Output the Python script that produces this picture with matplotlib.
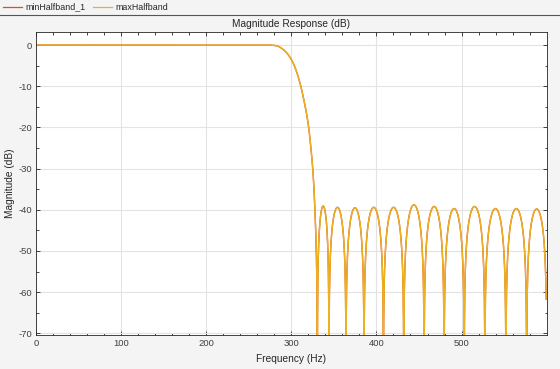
import numpy as np
import matplotlib
matplotlib.use("Agg")
import matplotlib.pyplot as plt
from matplotlib.ticker import MultipleLocator
from matplotlib.lines import Line2D

plt.rcParams['font.family'] = ['Liberation Sans', 'DejaVu Sans']
plt.rcParams['axes.unicode_minus'] = False

# ---- data ----
series_names = ["minHalfband_1", "maxHalfband"]
series_colors = ["#D95319", "#EDB120"]
# passband / transition band samples (Hz, dB)
trans_freq = [0, 270, 280, 285, 290, 295, 300, 305, 310, 315, 320, 323, 325.5, 327.7, 329.3, 330.1, 330.6]
trans_db = [0, 0, -0.08, -0.35, -1.0, -2.0, -3.5, -5.8, -9.1, -13.6, -19.4, -25.0, -31.0, -40.0, -50.0, -60.0, -90.0]
# stopband null frequencies (Hz) and the peak level (dB) of each lobe between them
stop_nulls = [330.6, 344.2, 364.2, 385.4, 408.2, 432.1, 456.0, 479.5, 503.1, 527.4, 552.1, 576.5, 600.0]
lobe_peaks = [-39.1, -39.4, -39.5, -39.4, -39.4, -38.8, -39.2, -39.7, -39.2, -39.7, -39.7, -39.8]
freq_end = 599.4
xticks = [0, 100, 200, 300, 400, 500]
yticks = [0, -10, -20, -30, -40, -50, -60, -70]


def pchip(xp, yp, xq):
    xp = np.asarray(xp, float); yp = np.asarray(yp, float)
    h = np.diff(xp); d = np.diff(yp) / h
    m = np.zeros_like(yp)
    m[0], m[-1] = d[0], d[-1]
    for k in range(1, len(xp) - 1):
        if d[k - 1] * d[k] > 0:
            w1 = 2 * h[k] + h[k - 1]; w2 = h[k] + 2 * h[k - 1]
            m[k] = (w1 + w2) / (w1 / d[k - 1] + w2 / d[k])
    idx = np.clip(np.searchsorted(xp, xq) - 1, 0, len(xp) - 2)
    t = (xq - xp[idx]) / h[idx]
    h00 = 2 * t**3 - 3 * t**2 + 1; h10 = t**3 - 2 * t**2 + t
    h01 = -2 * t**3 + 3 * t**2; h11 = t**3 - t**2
    return h00 * yp[idx] + h10 * h[idx] * m[idx] + h01 * yp[idx + 1] + h11 * h[idx] * m[idx + 1]


f = np.linspace(0, freq_end, 12000)
mag_db = np.full_like(f, -120.0)
sel = f <= trans_freq[-1]
mag_db[sel] = pchip(trans_freq, trans_db, f[sel])
for a, b, p in zip(stop_nulls[:-1], stop_nulls[1:], lobe_peaks):
    s = (f > a) & (f <= b)
    mag_db[s] = p + 20 * np.log10(np.clip(np.sin(np.pi * (f[s] - a) / (b - a)), 1e-6, None))

# ---- figure ----
W, H = 560, 369
fig = plt.figure(figsize=(W / 100, H / 100), dpi=100)
fig.patch.set_facecolor("#F4F4F4")
ax = fig.add_axes([36 / W, 1 - 335 / H, (546.5 - 36) / W, (335 - 32.3) / H])
ax.set_facecolor("white")

for name, col in zip(series_names, series_colors):
    ax.plot(f, mag_db, color=col, lw=1.0, label=name)

ax.set_xlim(0, 599.8)
ax.set_ylim(-70.4, 3.1)
ax.set_xticks(xticks)
ax.set_yticks(yticks)
ax.xaxis.set_minor_locator(MultipleLocator(20))
ax.yaxis.set_minor_locator(MultipleLocator(5))
ax.grid(True, which="major", color="#E3E3E3", lw=0.8)
ax.set_axisbelow(True)
ax.tick_params(which="both", direction="in", top=True, right=True,
               colors="#262626", labelsize=6.8, pad=3)
ax.tick_params(which="major", length=3, width=0.6)
ax.tick_params(which="minor", length=1.8, width=0.6)
for lbl in ax.get_xticklabels() + ax.get_yticklabels():
    lbl.set_color("#404040")
for s in ax.spines.values():
    s.set_color("#262626")
    s.set_linewidth(0.6)

ax.set_xlabel("Frequency (Hz)", fontsize=7.3, color="#262626", labelpad=4)
ax.set_ylabel("Magnitude (dB)", fontsize=7.3, color="#262626", labelpad=2)
fig.text(291 / W, 1 - 24 / H, "Magnitude Response (dB)", ha="center",
         va="center", fontsize=7.3, color="#262626")

# legend strip at the top
fig.add_artist(Line2D([0, 1], [1 - 14.5 / H] * 2, color="#555555", lw=0.8))
leg_x = [(3, 22, 25), (93, 112, 115)]
for (x0, x1, xt), name, col in zip(leg_x, series_names, series_colors):
    fig.add_artist(Line2D([x0 / W, x1 / W], [1 - 7 / H] * 2, color=col, lw=0.9))
    fig.text(xt / W, 1 - 7 / H, name, ha="left", va="center",
             fontsize=6.4, color="#262626")

fig.savefig("out.png", dpi=100, facecolor=fig.get_facecolor())
